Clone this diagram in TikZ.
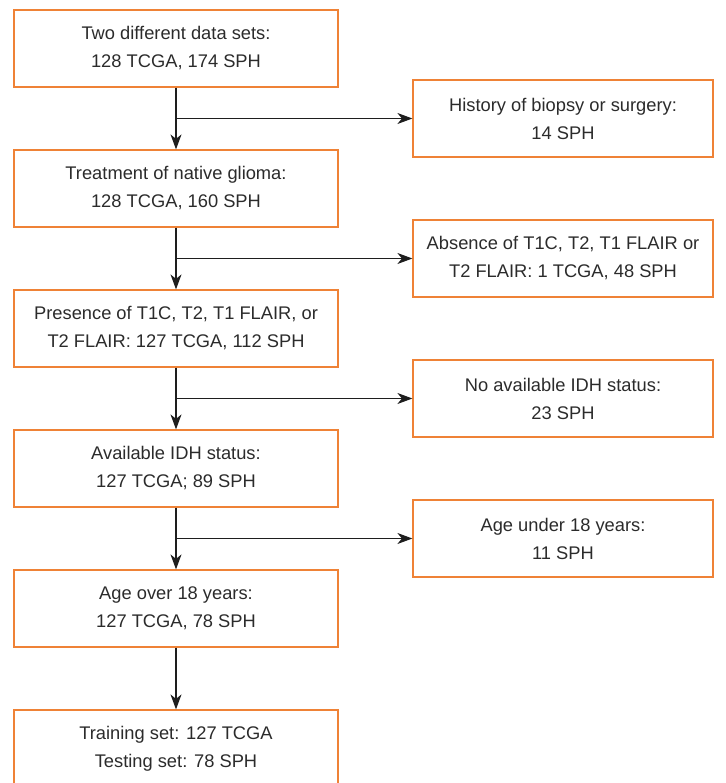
\documentclass[tikz,border=0pt]{standalone}
\usepackage{fontspec}
\setmainfont{Liberation Sans}
\usetikzlibrary{arrows.meta,positioning}
\definecolor{boxorange}{HTML}{EF8236}
\definecolor{txtgray}{HTML}{2B2B2B}
\definecolor{linegray}{HTML}{1E1E1E}
\tikzset{
  boxtext/.style={align=center, inner sep=0pt, text=txtgray, font=\fontsize{18.3}{28}\selectfont},
  leftbox/.style={boxtext, draw=boxorange, line width=1.2pt, minimum width=324pt, minimum height=77pt},
  rightbox/.style={boxtext, draw=boxorange, line width=1.2pt, minimum width=300pt, minimum height=77pt},
  flow/.style={draw=linegray, line width=1.2pt, -{Stealth[length=15pt,width=11pt,inset=4.5pt]}}
}
\begin{document}
\begin{tikzpicture}[x=1pt,y=-1pt]
\useasboundingbox (0,0) rectangle (725,783);
\node[leftbox] (b1) at (176,48.5) {Two different data sets:\\128 TCGA, 174 SPH};
\node[leftbox] (b2) at (176,188.5) {Treatment of native glioma:\\128 TCGA, 160 SPH};
\node[leftbox] (b3) at (176,328.5) {Presence of T1C, T2, T1 FLAIR, or\\T2 FLAIR: 127 TCGA, 112 SPH};
\node[leftbox] (b4) at (176,468.5) {Available IDH status:\\127 TCGA; 89 SPH};
\node[leftbox] (b5) at (176,608.5) {Age over 18 years:\\127 TCGA, 78 SPH};
\node[leftbox] (b6) at (176,748.5) {Training set: 127 TCGA\\Testing set: 78 SPH};
\node[rightbox] (r1) at (563,118.5) {History of biopsy or surgery:\\14 SPH};
\node[rightbox] (r2) at (563,258.5) {Absence of T1C, T2, T1 FLAIR or\\T2 FLAIR: 1 TCGA, 48 SPH};
\node[rightbox] (r3) at (563,398.5) {No available IDH status:\\23 SPH};
\node[rightbox] (r4) at (563,538.5) {Age under 18 years:\\11 SPH};
\coordinate (j1) at (b1.south |- r1.west);
\coordinate (j2) at (b2.south |- r2.west);
\coordinate (j3) at (b3.south |- r3.west);
\coordinate (j4) at (b4.south |- r4.west);
\draw[flow] (b1) -- (b2);
\draw[flow] (b2) -- (b3);
\draw[flow] (b3) -- (b4);
\draw[flow] (b4) -- (b5);
\draw[flow] (b5) -- (b6);
\draw[flow] (j1) -- (r1);
\draw[flow] (j2) -- (r2);
\draw[flow] (j3) -- (r3);
\draw[flow] (j4) -- (r4);
\end{tikzpicture}
\end{document}
